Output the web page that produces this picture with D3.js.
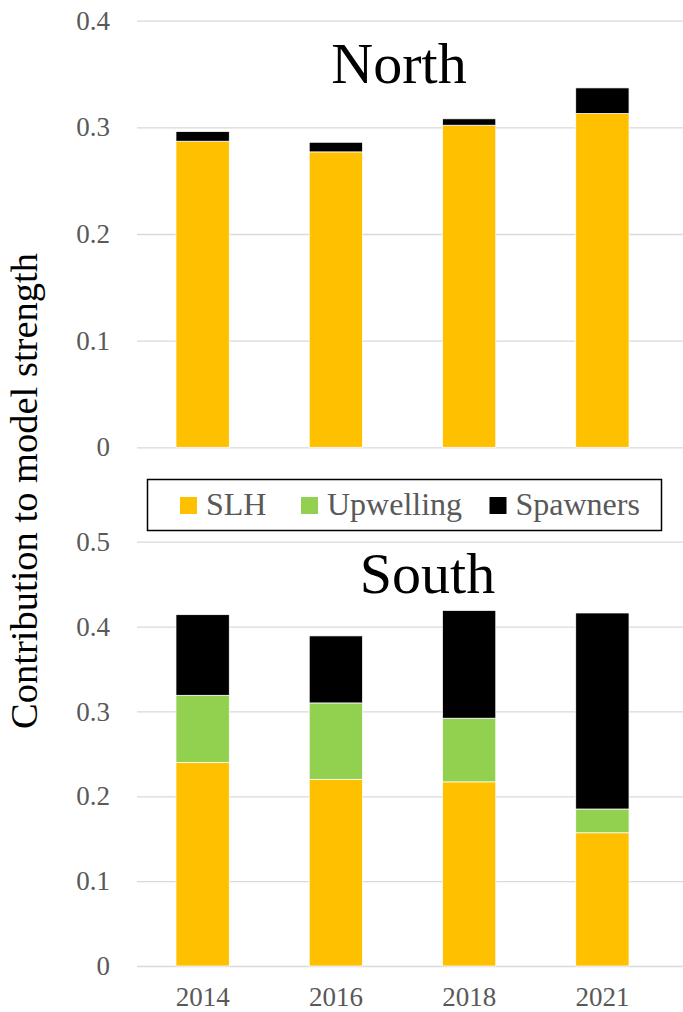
<!DOCTYPE html>
<html>
<head>
<meta charset="utf-8">
<script src="https://cdn.jsdelivr.net/npm/d3@7"></script>
<style>
  html, body { margin: 0; padding: 0; background: #fff; }
  svg { display: block; }
  svg text { font-family: "Liberation Serif", "DejaVu Serif", serif !important; }
</style>
</head>
<body>
<svg id="chart" width="683" height="1012"></svg>
<script>
// Survey years shared by both panels
const years = ["2014", "2016", "2018", "2021"];

// Series names and their fill colours
const seriesNames = ["SLH", "Upwelling", "Spawners"];
const seriesColors = ["#FFC000", "#92D050", "#000000"];

// North region contributions
const northSLH = [0.287, 0.277, 0.302, 0.313];
const northUpwelling = [0, 0, 0, 0];
const northSpawners = [0.009, 0.009, 0.006, 0.024];

// South region contributions
const southSLH = [0.240, 0.220, 0.217, 0.157];
const southUpwelling = [0.079, 0.090, 0.075, 0.028];
const southSpawners = [0.095, 0.079, 0.127, 0.231];

// Axis tick values
const northTicks = [0, 0.1, 0.2, 0.3, 0.4];
const southTicks = [0, 0.1, 0.2, 0.3, 0.4, 0.5];

const FONT = "Liberation Serif";
const svg = d3.select("#chart");
const tickColor = "#595959";
const gridColor = "#d9d9d9";
const plotLeft = 137, plotRight = 683;

const x = d3.scaleBand()
  .domain(years)
  .range([136, 669])
  .paddingInner(0.6)
  .paddingOuter(0.3);

const fmt = d => d === 0 ? "0" : d3.format(".1f")(d);

function buildRows(slh, up, sp) {
  return years.map((yr, i) => ({ year: yr, SLH: slh[i], Upwelling: up[i], Spawners: sp[i] }));
}

function drawPanel(rows, yDomain, yRange, ticks, title, titleX, titleY) {
  const y = d3.scaleLinear().domain(yDomain).range(yRange);
  const g = svg.append("g");

  // gridlines + tick labels
  const axis = g.append("g")
    .attr("transform", `translate(${plotLeft},0)`)
    .call(d3.axisLeft(y).tickValues(ticks).tickFormat(fmt)
      .tickSize(-(plotRight - plotLeft)).tickPadding(27));
  axis.attr("font-family", FONT).attr("font-size", 27);
  axis.select(".domain").remove();
  axis.selectAll(".tick line").attr("stroke", gridColor).attr("stroke-width", 1.3);
  axis.selectAll(".tick text").attr("fill", tickColor);

  // stacked bars
  const stacked = d3.stack().keys(seriesNames)(rows);
  g.selectAll("g.series")
    .data(stacked)
    .join("g")
    .attr("class", "series")
    .attr("fill", (d, i) => seriesColors[i])
    .selectAll("rect")
    .data(d => d.filter(p => p[1] - p[0] > 0))
    .join("rect")
    .attr("x", d => x(d.data.year))
    .attr("width", x.bandwidth())
    .attr("y", d => y(d[1]))
    .attr("height", d => y(d[0]) - y(d[1]))
    .attr("stroke", "#fff")
    .attr("stroke-width", 0.75);

  // panel title
  g.append("text")
    .attr("x", titleX)
    .attr("y", titleY)
    .attr("text-anchor", "middle")
    .attr("fill", "#000")
    .attr("font-family", FONT)
    .attr("font-size", 58)
    .text(title);

  return y;
}

drawPanel(buildRows(northSLH, northUpwelling, northSpawners),
  [0, 0.4], [447.3, 20.7], northTicks, "North", 399, 82.5);

const ySouth = drawPanel(buildRows(southSLH, southUpwelling, southSpawners),
  [0, 0.5], [966, 541.7], southTicks, "South", 427.5, 593);

// year labels under the south panel
const xAxis = svg.append("g")
  .attr("transform", `translate(0,${ySouth(0)})`)
  .call(d3.axisBottom(x).tickSize(0));
xAxis.attr("font-family", FONT).attr("font-size", 27);
xAxis.select(".domain").remove();
xAxis.selectAll(".tick text")
  .attr("dy", null)
  .attr("y", 40)
  .attr("fill", tickColor);

// shared y-axis title
svg.append("text")
  .attr("transform", "translate(37,491) rotate(-90)")
  .attr("text-anchor", "middle")
  .attr("fill", "#000")
  .attr("font-family", FONT)
  .attr("font-size", 38.5)
  .text("Contribution to model strength");

// legend
const legend = svg.append("g")
  .attr("font-family", FONT);
legend.append("rect")
  .attr("x", 147.5).attr("y", 479.5)
  .attr("width", 514).attr("height", 51)
  .attr("fill", "#fff")
  .attr("stroke", "#000")
  .attr("stroke-width", 1.5);

const legendX = [180, 301, 489.5];
seriesNames.forEach((name, i) => {
  legend.append("rect")
    .attr("x", legendX[i]).attr("y", 497)
    .attr("width", 17).attr("height", 17)
    .attr("fill", seriesColors[i]);
  legend.append("text")
    .attr("x", legendX[i] + 26)
    .attr("y", 515)
    .attr("fill", tickColor)
    .attr("font-size", 32)
    .text(name);
});
</script>
</body>
</html>
